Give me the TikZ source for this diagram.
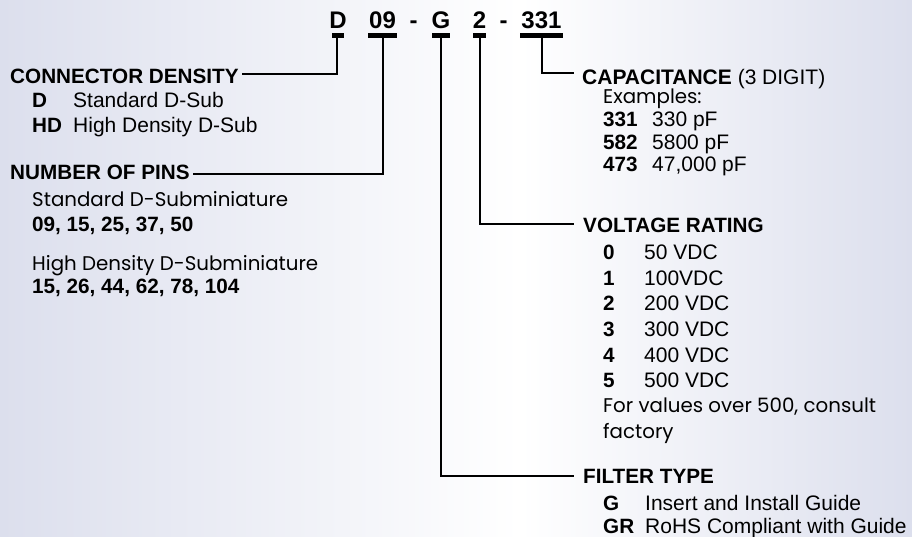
\documentclass[tikz,border=0pt]{standalone}
\usepackage{fontspec}
\setmainfont{Liberation Sans}
\newfontfamily\cg{Poppins}
\definecolor{bgl}{RGB}{220,223,237}
\tikzset{
  txt/.style={anchor=base west, inner sep=0pt, font=\fontsize{21}{25}\selectfont},
  hd/.style={txt, font=\fontsize{20.7}{25}\selectfont\bfseries},
  gth/.style={txt, font=\fontsize{19.8}{24}\selectfont\cg},
  code/.style={anchor=base, inner sep=0pt, font=\fontsize{24}{28}\selectfont\bfseries},
  bar/.style={fill=black, inner sep=0pt, minimum height=5pt},
  conn/.style={line width=2pt, line cap=rect}
}
\begin{document}
\begin{tikzpicture}[x=1pt,y=-1pt]
\useasboundingbox (0,0) rectangle (912,537);
\shade[left color=bgl, right color=white] (0,0) rectangle (520,537);
\shade[left color=white, right color=bgl] (520,0) rectangle (912,537);

% code
\node[code] (cD) at (338,29) {D};
\node[code] (c09) at (382.5,29) {09};
\node[code] (dash1) at (413.5,29) {-};
\node[code] (cG) at (441,29) {G};
\node[code] (c2) at (479.5,29) {2};
\node[code] (dash2) at (503.5,29) {-};
\node[code] (c331) at (541.5,29) {331};

\node[bar, minimum width=12pt] (bD) at (338,35.5) {};
\node[bar, minimum width=29pt] (b09) at (382.5,35.5) {};
\node[bar, minimum width=18pt] (bG) at (441,35.5) {};
\node[bar, minimum width=13pt] (b2) at (479.5,35.5) {};
\node[bar, minimum width=43pt] (b331) at (541.5,35.5) {};

% left
\node[hd] (cd) at (10,84) {CONNECTOR DENSITY};
\node[hd] (cdD) at (32,108) {D};
\node[txt] (cdDt) at (73,108) {Standard D-Sub};
\node[hd] (cdHD) at (32,133) {HD};
\node[txt] (cdHDt) at (73,133) {High Density D-Sub};

\node[hd] (np) at (10,180) {NUMBER OF PINS};
\node[gth] (np1) at (32,207) {Standard D-Subminiature};
\node[hd] (np2) at (32,232) {09, 15, 25, 37, 50};
\node[gth] (np3) at (32,270) {High Density D-Subminiature};
\node[hd] (np4) at (32,293) {15, 26, 44, 62, 78, 104};

% right
\node[txt] (cap) at (582,85) {\textbf{CAPACITANCE} (3 DIGIT)};
\node[gth] (ex) at (603,104) {Examples:};
\node[hd] (e1) at (603,127) {331};
\node[txt] (e1t) at (652,127) {330 pF};
\node[hd] (e2) at (603,150) {582};
\node[txt] (e2t) at (652,150) {5800 pF};
\node[hd] (e3) at (603,172) {473};
\node[txt] (e3t) at (652,172) {47,000 pF};

\node[hd] (vr) at (583,233) {VOLTAGE RATING};
\foreach \k/\v/\y in {0/50 VDC/259, 1/100VDC/285, 2/200 VDC/310, 3/300 VDC/336, 4/400 VDC/362, 5/500 VDC/387}{
  \node[hd] (v\k) at (603,\y) {\k};
  \node[txt] (v\k t) at (644,\y) {\v};
}
\node[gth] (fv1) at (603,412) {For values over 500, consult};
\node[gth] (fv2) at (603,438) {factory};

\node[hd] (ft) at (583,483) {FILTER TYPE};
\node[hd] (fG) at (603,510) {G};
\node[txt] (fGt) at (645,510) {Insert and Install Guide};
\node[hd] (fGR) at (603,533) {GR};
\node[txt] (fGRt) at (645,533) {RoHS Compliant with Guide};

% connector ends
\coordinate (eD) at ([xshift=4pt]cd.east |- 0,74);
\coordinate (e09) at ([xshift=4pt]np.east |- 0,174);
\coordinate (e331) at ([xshift=-9pt]cap.west |- 0,73);
\coordinate (e2) at ([xshift=-10pt]vr.west |- 0,224);
\coordinate (eG) at ([xshift=-10pt]ft.west |- 0,476);

\draw[conn] (bD.south -| 337,0) |- (eD);
\draw[conn] (b09.south) |- (e09);
\draw[conn] (b331.south) |- (e331);
\draw[conn] (b2.south) |- (e2);
\draw[conn] (bG.south) |- (eG);
\end{tikzpicture}
\end{document}
